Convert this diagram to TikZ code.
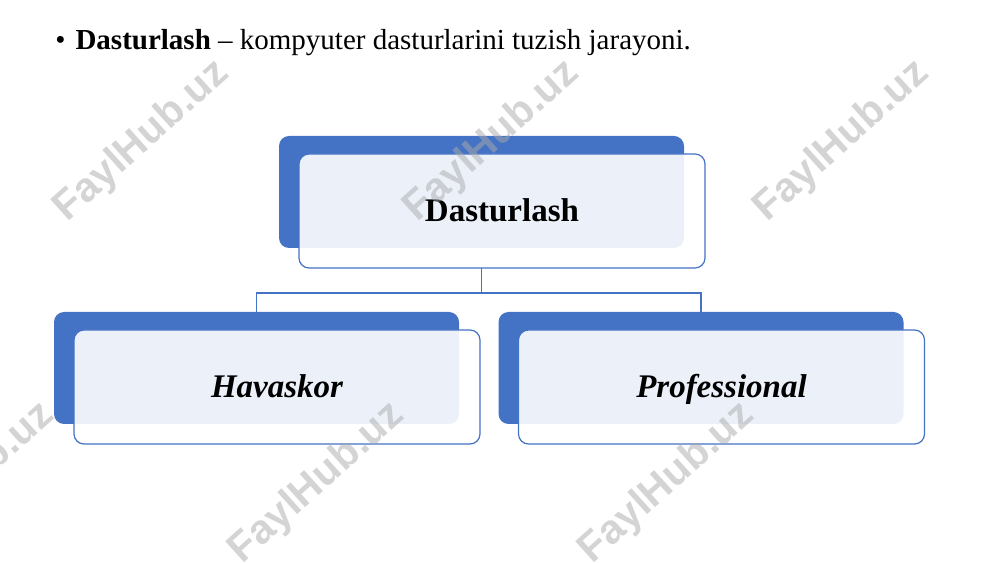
\documentclass[tikz,border=0pt]{standalone}
\usepackage{fontspec}
\setmainfont{Liberation Serif}
\newfontfamily\markfont{Liberation Sans}
\definecolor{boxblue}{RGB}{68,114,196}
\definecolor{markgray}{RGB}{170,170,170}

\begin{document}
\begin{tikzpicture}[
    x=0.5pt, y=0.5pt,
    back/.style={fill=boxblue, rounded corners=5pt, minimum width=202.5pt, minimum height=56pt, inner sep=0pt},
    front/.style={draw=boxblue, line width=0.6pt, fill=white, fill opacity=0.9, text opacity=1, rounded corners=5pt,
      minimum width=203pt, minimum height=57pt, inner sep=0pt, text height=13pt, text depth=2pt},
    link/.style={draw=boxblue, line width=0.6pt},
    wmark/.style={rotate=42, text=markgray, text opacity=0.5, font=\markfont\bfseries\fontsize{20.5}{24}\selectfont},
    ]
    \useasboundingbox (0,0) rectangle (1000,562);
    \node[anchor=base west, inner sep=0pt, font=\fontsize{14.5}{17}\selectfont] (intro) at (55,512)
      {\textbullet\hspace{5pt}\textbf{Dasturlash} – kompyuter dasturlarini tuzish jarayoni.};
    % back boxes
    \node[back] (topback) at (481.5,370) {};
    \node[back] (leftback) at (256.5,194) {};
    \node[back] (rightback) at (701,194) {};
    % connectors
    \draw[link] (topback.south |- 0,294) -- ++(0,-25) -| (leftback.north);
    \draw[link] (topback.south |- 0,294) -- ++(0,-25) -| (rightback.north);
    % front boxes
    \node[front, font=\fontsize{16.5}{20}\selectfont\bfseries] (topfront) at (502,351) {Dasturlash};
    \node[front, font=\fontsize{16.5}{20}\selectfont\bfseries\itshape] (leftfront) at (277,175) {Havaskor};
    \node[front, font=\fontsize{16.5}{20}\selectfont\bfseries\itshape] (rightfront) at (721.5,175) {Professional};
    % watermarks
    \node[wmark] (mark1) at (142,421) {FaylHub.uz};
    \node[wmark] (mark2) at (492,421) {FaylHub.uz};
    \node[wmark] (mark3) at (842,421) {FaylHub.uz};
    \node[wmark] (mark4) at (-33,79) {FaylHub.uz};
    \node[wmark] (mark5) at (317,79) {FaylHub.uz};
    \node[wmark] (mark6) at (667,79) {FaylHub.uz};
\end{tikzpicture}
\end{document}
